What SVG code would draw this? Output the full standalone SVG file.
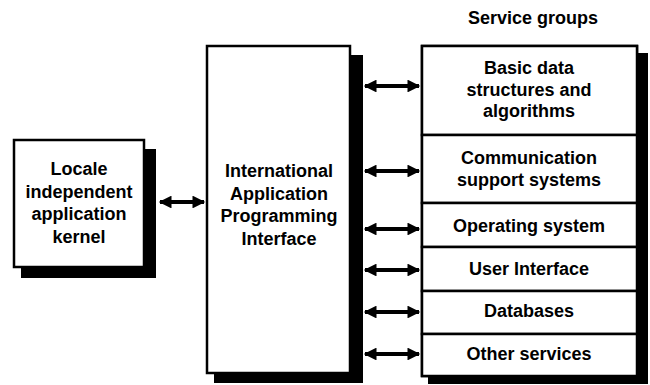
<svg xmlns="http://www.w3.org/2000/svg" width="650" height="385" viewBox="0 0 650 385">
<defs>
<style>
.box{fill:#fff;stroke:#000;stroke-width:2.5}
.sh{fill:#000}
.t{font-family:"Liberation Sans",Arial,sans-serif;font-weight:bold;font-size:18px;text-anchor:middle;fill:#000}
.c{stroke:#000;stroke-width:4;marker-start:url(#a);marker-end:url(#a)}
</style>
<marker id="a" viewBox="0 0 10 10" refX="9" refY="5" markerWidth="3.8" markerHeight="3.2" orient="auto-start-reverse" markerUnits="strokeWidth">
<path d="M0,0 L10,5 L0,10 Z" fill="#000"/>
</marker>
</defs>
<rect width="650" height="385" fill="#fff"/>
<text class="t" x="533" y="24">Service groups</text>
<g id="kernel">
<rect class="sh" x="21" y="149" width="135" height="129"/>
<rect class="box" x="14" y="140" width="130" height="127"/>
<text class="t" x="79" y="175">Locale</text>
<text class="t" x="79" y="198">independent</text>
<text class="t" x="79" y="220">application</text>
<text class="t" x="79" y="243">kernel</text>
</g>
<g id="api">
<rect class="sh" x="214" y="55" width="149" height="328"/>
<rect class="box" x="207" y="46" width="143" height="327"/>
<text class="t" x="279" y="177">International</text>
<text class="t" x="279" y="200">Application</text>
<text class="t" x="279" y="222">Programming</text>
<text class="t" x="279" y="245">Interface</text>
</g>
<g id="services">
<rect class="sh" x="428" y="53" width="220" height="331"/>
<rect class="box" x="422" y="46" width="215" height="330"/>
</g>
<g id="basic">
<rect class="box" x="422" y="46" width="215" height="89"/>
<text class="t" x="529" y="74">Basic data</text>
<text class="t" x="529" y="96">structures and</text>
<text class="t" x="529" y="117">algorithms</text>
</g>
<g id="comm">
<rect class="box" x="422" y="135" width="215" height="68"/>
<text class="t" x="529" y="164">Communication</text>
<text class="t" x="529" y="186">support systems</text>
</g>
<g id="os">
<rect class="box" x="422" y="203" width="215" height="44"/>
<text class="t" x="529" y="232">Operating system</text>
</g>
<g id="ui">
<rect class="box" x="422" y="247" width="215" height="44"/>
<text class="t" x="529" y="275">User Interface</text>
</g>
<g id="db">
<rect class="box" x="422" y="291" width="215" height="43"/>
<text class="t" x="529" y="317">Databases</text>
</g>
<g id="other">
<rect class="box" x="422" y="334" width="215" height="42"/>
<text class="t" x="529" y="360">Other services</text>
</g>
<g id="connectors">
<line class="c" x1="160" y1="202" x2="204" y2="202"/>
<line class="c" x1="365" y1="86" x2="419" y2="86"/>
<line class="c" x1="365" y1="171" x2="419" y2="171"/>
<line class="c" x1="365" y1="229" x2="419" y2="229"/>
<line class="c" x1="365" y1="270" x2="419" y2="270"/>
<line class="c" x1="365" y1="312" x2="419" y2="312"/>
<line class="c" x1="365" y1="354" x2="419" y2="354"/>
</g>
</svg>
